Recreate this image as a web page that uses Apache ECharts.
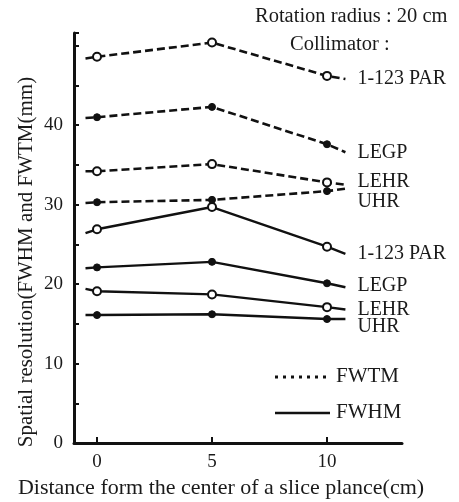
<!DOCTYPE html>
<html>
<head>
<meta charset="utf-8">
<script src="https://cdn.jsdelivr.net/npm/echarts@6/dist/echarts.min.js"></script>
<style>html,body{margin:0;padding:0;background:#fff}#c{width:459px;height:502px}</style>
</head>
<body>
<div id="c"></div>
<script>
// Distance from centre (cm); first/last entries are the line extensions without markers
var xs = [-0.5, 0, 5, 10, 10.8];
var collimators = ['1-123 PAR', 'LEGP', 'LEHR', 'UHR'];
var fwtmPAR  = [48.4, 48.6, 50.4, 46.2, 45.8];
var fwtmLEGP = [40.9, 41.0, 42.3, 37.6, 36.6];
var fwtmLEHR = [34.2, 34.2, 35.1, 32.8, 32.5];
var fwtmUHR  = [30.2, 30.3, 30.6, 31.7, 32.0];
var fwhmPAR  = [26.4, 26.9, 29.7, 24.7, 23.8];
var fwhmLEGP = [22.0, 22.1, 22.8, 20.1, 19.6];
var fwhmLEHR = [19.4, 19.1, 18.7, 17.1, 16.8];
var fwhmUHR  = [16.1, 16.1, 16.2, 15.6, 15.6];
var xTicks = [0, 5, 10];
var yTickLabels = [0, 10, 20, 30, 40];

var FONT = 'Liberation Serif';
var markerOpen = ['1-123 PAR', 'LEHR'];
var labelDy = { 'FWTM': [0, 1, -3, 13], 'FWHM': [0, -2, 0, 8] };

function build(kind, name, vals, idx) {
  var open = markerOpen.indexOf(name) >= 0;
  var data = vals.map(function (v, i) {
    var item = { value: [xs[i], v] };
    if (i === 0 || i === vals.length - 1) item.symbol = 'none';
    return item;
  });
  return {
    type: 'line',
    name: kind + ' ' + name,
    data: data,
    showAllSymbol: true,
    symbol: 'circle',
    symbolSize: open ? 8 : 7,
    itemStyle: open ? { color: '#fff', borderColor: '#111', borderWidth: 2 } : { color: '#111', borderColor: '#111', borderWidth: 1 },
    lineStyle: kind === 'FWTM' ? { color: '#111', width: 2.6, type: [8, 4] } : { color: '#111', width: 2.4 },
    endLabel: {
      show: true,
      formatter: name,
      distance: 12,
      offset: [0, labelDy[kind][idx]],
      fontFamily: FONT,
      fontSize: 20,
      color: '#1a1a1a'
    },
    emphasis: { disabled: true },
    z: 3
  };
}

var series = [];
[fwtmPAR, fwtmLEGP, fwtmLEHR, fwtmUHR].forEach(function (v, i) { series.push(build('FWTM', collimators[i], v, i)); });
[fwhmPAR, fwhmLEGP, fwhmLEHR, fwhmUHR].forEach(function (v, i) { series.push(build('FWHM', collimators[i], v, i)); });

var chart = echarts.init(document.getElementById('c'), null, { renderer: 'canvas' });
chart.setOption({
  animation: false,
  backgroundColor: '#fff',
  grid: { left: 74, top: 33, width: 328, height: 410 },
  xAxis: {
    type: 'value', min: -1, max: 13.26,
    axisLine: { onZero: false, lineStyle: { color: '#111', width: 3 } },
    axisTick: { show: true, inside: true, length: 6, lineStyle: { color: '#111', width: 2 }, customValues: xTicks },
    axisLabel: { customValues: xTicks, fontFamily: FONT, fontSize: 19, color: '#1a1a1a', margin: 10 },
    splitLine: { show: false }
  },
  yAxis: {
    type: 'value', min: 0, max: 51.6, interval: 5,
    axisLine: { show: true, onZero: false, lineStyle: { color: '#111', width: 3 } },
    axisTick: { show: true, inside: true, length: 5, lineStyle: { color: '#111', width: 2 } },
    axisLabel: {
      fontFamily: FONT, fontSize: 19, color: '#1a1a1a', margin: 11,
      formatter: function (v) { return yTickLabels.indexOf(v) >= 0 ? String(v) : ''; }
    },
    splitLine: { show: false }
  },
  series: series,
  graphic: [
    { type: 'text', left: 255, top: 6, style: { text: 'Rotation radius : 20 cm', font: '20.5px "Liberation Serif"', fill: '#1a1a1a' } },
    { type: 'text', left: 290, top: 34, style: { text: 'Collimator :', font: '20.5px "Liberation Serif"', fill: '#1a1a1a' } },
    { type: 'line', shape: { x1: 275, y1: 377, x2: 330, y2: 377 }, style: { stroke: '#111', lineWidth: 3, lineDash: [3, 5] } },
    { type: 'text', left: 336, top: 366, style: { text: 'FWTM', font: '21px "Liberation Serif"', fill: '#1a1a1a' } },
    { type: 'line', shape: { x1: 275, y1: 413, x2: 330, y2: 413 }, style: { stroke: '#111', lineWidth: 2.4 } },
    { type: 'text', left: 336, top: 402, style: { text: 'FWHM', font: '21px "Liberation Serif"', fill: '#1a1a1a' } },
    { type: 'text', x: 221, y: 488, style: { text: 'Distance form the center of a slice plance(cm)', font: '22px "Liberation Serif"', fill: '#1a1a1a', textAlign: 'center', textVerticalAlign: 'middle' } },
    { type: 'text', x: 26, y: 262, rotation: Math.PI / 2, style: { text: 'Spatial resolution(FWHM and FWTM(mm)', font: '21px "Liberation Serif"', fill: '#1a1a1a', textAlign: 'center', textVerticalAlign: 'middle' } }
  ]
});
</script>
</body>
</html>
